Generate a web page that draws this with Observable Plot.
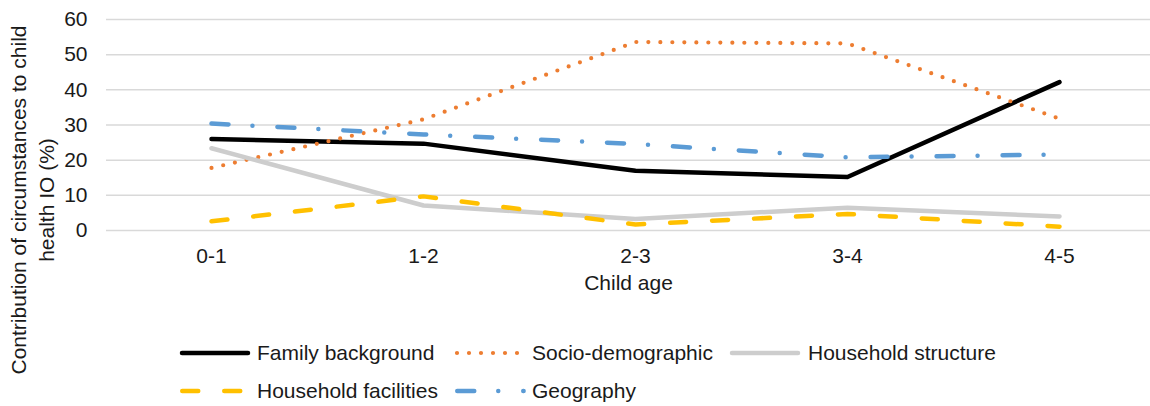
<!DOCTYPE html>
<html><head><meta charset="utf-8">
<script src="https://cdn.jsdelivr.net/npm/d3@7"></script>
<script src="https://cdn.jsdelivr.net/npm/@observablehq/plot@0.6"></script>
<style>
body{margin:0;background:#fff;font-family:"Liberation Sans",Arial,sans-serif;}
#wrap{position:relative;width:1150px;height:406px;overflow:hidden;background:#fff;}
#chart svg{display:block;}
#ylab{position:absolute;left:-167px;top:172px;width:400px;height:56px;line-height:28px;text-align:center;font-size:21px;color:#1a1a1a;transform:rotate(-90deg);transform-origin:50% 50%;white-space:nowrap;}
#legend{display:block;}
</style></head><body>
<div id="wrap"><div id="chart"></div><svg id="legend" width="1150" height="101"></svg><div id="ylab">Contribution of circumstances to child<br>health IO (%)</div></div>
<script>
const ages = ["0-1", "1-2", "2-3", "3-4", "4-5"];
const familyBackground = [26.0, 24.7, 17.0, 15.2, 42.2];
const socioDemographic = [17.8, 31.6, 53.6, 53.2, 31.8];
const householdStructure = [23.4, 7.1, 3.3, 6.5, 4.0];
const householdFacilities = [2.6, 9.7, 1.7, 4.7, 1.1];
const geography = [30.4, 27.3, 24.6, 20.8, 21.6];
const yTicks = [0, 10, 20, 30, 40, 50, 60];
const xLabel = "Child age";

const series = [
  {name: "Family background", values: familyBackground, color: "#000000", width: 4.5, dash: null, cap: "round"},
  {name: "Socio-demographic", values: socioDemographic, color: "#ED7D31", width: 4.2, dash: "0 12", cap: "round"},
  {name: "Household structure", values: householdStructure, color: "#CDCDCD", width: 4.5, dash: null, cap: "round"},
  {name: "Household facilities", values: householdFacilities, color: "#FFC000", width: 4.5, dash: "16 26", cap: "round"},
  {name: "Geography", values: geography, color: "#5B9BD5", width: 4.5, dash: "17 24 0 25", cap: "round"}
];

const lineMarks = series.map(s => Plot.line(
  ages.map((a, i) => ({age: a, value: s.values[i]})),
  {x: "age", y: "value", stroke: s.color, strokeWidth: s.width,
   strokeDasharray: s.dash || undefined, strokeLinecap: s.cap, strokeLinejoin: "round"}
));

const chart = Plot.plot({
  width: 1150,
  height: 305,
  marginLeft: 106,
  marginRight: 0,
  marginTop: 19,
  marginBottom: 75,
  style: {fontFamily: "'Liberation Sans', Arial, sans-serif", fontSize: "21px", color: "#1a1a1a", background: "#fff", overflow: "visible"},
  x: {type: "point", domain: ages, range: [209, 1060], padding: 0},
  y: {domain: [0, 60]},
  marks: [
    Plot.ruleY(yTicks, {stroke: "#D9D9D9", strokeWidth: 1.5}),
    Plot.axisY({ticks: yTicks, tickSize: 0, tickPadding: 19, label: null, fontSize: 21}),
    Plot.axisX({tickSize: 0, tickPadding: 18, label: null, fontSize: 21}),
    Plot.text([xLabel], {frameAnchor: "bottom", dy: 59, fontSize: 21, fill: "#1a1a1a"}),
    ...lineMarks
  ]
});
document.getElementById("chart").appendChild(chart);

// legend
const leg = d3.select("#legend");
const items = [
  {s: series[0], x1: 182, x2: 248, tx: 257, y: 48},
  {s: series[1], x1: 457, x2: 518, tx: 532, y: 48},
  {s: series[2], x1: 732, x2: 798, tx: 808, y: 48},
  {s: series[3], x1: 182.25, x2: 242, tx: 257, y: 86},
  {s: series[4], x1: 457.25, x2: 523.6, tx: 532, y: 86}
];
items.forEach(it => {
  leg.append("line").attr("x1", it.x1).attr("x2", it.x2).attr("y1", it.y).attr("y2", it.y)
    .attr("stroke", it.s.color).attr("stroke-width", it.s.width)
    .attr("stroke-linecap", it.s.cap)
    .attr("stroke-dasharray", it.s.dash);
  leg.append("text").attr("x", it.tx).attr("y", it.y).attr("dy", "0.35em")
    .attr("font-size", 21).attr("fill", "#1a1a1a")
    .attr("font-family", "'Liberation Sans', Arial, sans-serif")
    .text(it.s.name);
});
</script>
</body></html>
